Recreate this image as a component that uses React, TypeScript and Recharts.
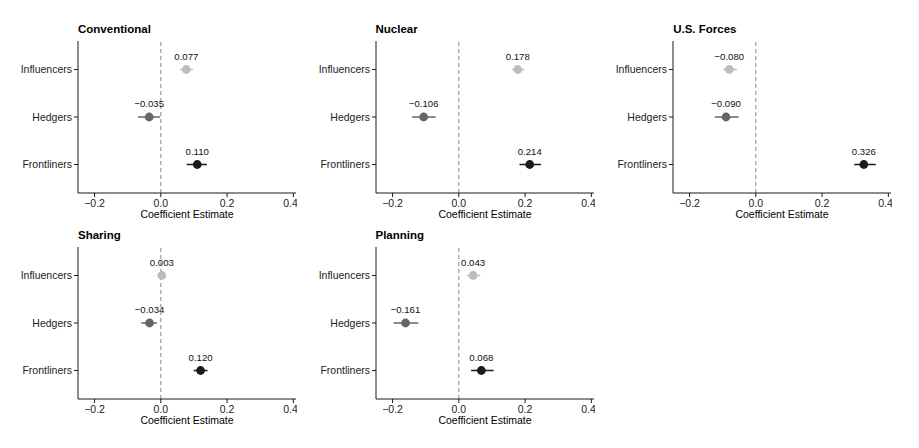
import {
  ComposedChart,
  Scatter,
  XAxis,
  YAxis,
  ErrorBar,
  LabelList,
  ReferenceLine,
} from "recharts";

// rows from bottom to top of each panel
const groups = ["Frontliners", "Hedgers", "Influencers"];
const groupColors = ["#1a1a1a", "#666666", "#bdbdbd"];
const xTicks = [-0.2, 0, 0.2, 0.4];

const conventionalEst = [0.11, -0.035, 0.077];
const conventionalLow = [0.078, -0.069, 0.058];
const conventionalHigh = [0.139, -0.002, 0.097];

const nuclearEst = [0.214, -0.106, 0.178];
const nuclearLow = [0.183, -0.141, 0.161];
const nuclearHigh = [0.248, -0.07, 0.198];

const forcesEst = [0.326, -0.09, -0.08];
const forcesLow = [0.297, -0.124, -0.098];
const forcesHigh = [0.362, -0.052, -0.057];

const sharingEst = [0.12, -0.034, 0.003];
const sharingLow = [0.099, -0.059, -0.006];
const sharingHigh = [0.141, -0.012, 0.011];

const planningEst = [0.068, -0.161, 0.043];
const planningLow = [0.037, -0.197, 0.024];
const planningHigh = [0.105, -0.122, 0.065];

const panels = [
  { title: "Conventional", est: conventionalEst, low: conventionalLow, high: conventionalHigh },
  { title: "Nuclear", est: nuclearEst, low: nuclearLow, high: nuclearHigh },
  { title: "U.S. Forces", est: forcesEst, low: forcesLow, high: forcesHigh },
  { title: "Sharing", est: sharingEst, low: sharingLow, high: sharingHigh },
  { title: "Planning", est: planningEst, low: planningLow, high: planningHigh },
];

const FONT = "'Liberation Sans', Arial, Helvetica, sans-serif";
const colLeft = [0, 297.5, 595.2];
const rowTop = [0, 205.7];

const fmt = (v: number, digits: number) =>
  (v < 0 ? "\u2212" : "") + Math.abs(v).toFixed(digits);

const Dot = (props: any) => {
  const { cx, cy, fill } = props;
  if (cx == null || cy == null) return null;
  return <circle cx={cx} cy={cy} r={4.4} fill={fill} />;
};

interface PanelProps {
  title: string;
  est: number[];
  low: number[];
  high: number[];
}

const Panel = ({ title, est, low, high }: PanelProps) => {
  return (
    <div style={{ position: "relative", width: 297, height: 224 }}>
      <div
        style={{
          position: "absolute",
          left: 78,
          top: 23,
          fontFamily: FONT,
          fontWeight: "bold",
          fontSize: 11.5,
          color: "#000",
          lineHeight: "12px",
        }}
      >
        {title}
      </div>
      <ComposedChart
        width={297}
        height={224}
        margin={{ top: 41, right: 1, bottom: 0, left: 0 }}
        style={{ fontFamily: FONT }}
      >
        <XAxis
          type="number"
          dataKey="x"
          domain={[-0.25, 0.408]}
          ticks={xTicks}
          allowDataOverflow
          tickFormatter={(v: number) => fmt(v, 1)}
          tick={{ fontSize: 10.5, fill: "#222" }}
          tickSize={4}
          tickMargin={3}
          height={31}
          stroke="#1a1a1a"
          label={{
            value: "Coefficient Estimate",
            position: "insideBottom",
            offset: 6,
            fontSize: 10.5,
            fill: "#000",
          }}
        />
        <YAxis
          type="number"
          dataKey="y"
          domain={[0.4, 3.6]}
          ticks={[1, 2, 3]}
          allowDataOverflow
          tickFormatter={(v: number) => groups[v - 1]}
          tick={{ fontSize: 10.5, fill: "#222" }}
          tickSize={4}
          tickMargin={2}
          width={78}
          stroke="#1a1a1a"
        />
        <ReferenceLine x={0} stroke="#888" strokeDasharray="4 3" />
        {groups.map((g, i) => (
          <Scatter
            key={g}
            data={[
              {
                x: est[i],
                y: i + 1,
                err: [est[i] - low[i], high[i] - est[i]],
                label: fmt(est[i], 3),
              },
            ]}
            fill={groupColors[i]}
            shape={<Dot />}
            isAnimationActive={false}
          >
            <ErrorBar
              dataKey="err"
              direction="x"
              width={0}
              stroke={groupColors[i]}
              strokeWidth={1.5}
              isAnimationActive={false}
            />
            <LabelList
              dataKey="label"
              position="top"
              offset={5}
              style={{ fontSize: 9.6, fill: "#111" }}
            />
          </Scatter>
        ))}
      </ComposedChart>
    </div>
  );
};

export default function App() {
  return (
    <div style={{ position: "absolute", left: 0, top: 0, width: 919, height: 448, background: "#fff" }}>
      {panels.map((p, k) => (
        <div
          key={p.title}
          style={{ position: "absolute", left: colLeft[k % 3], top: rowTop[Math.floor(k / 3)] }}
        >
          <Panel {...p} />
        </div>
      ))}
    </div>
  );
}
